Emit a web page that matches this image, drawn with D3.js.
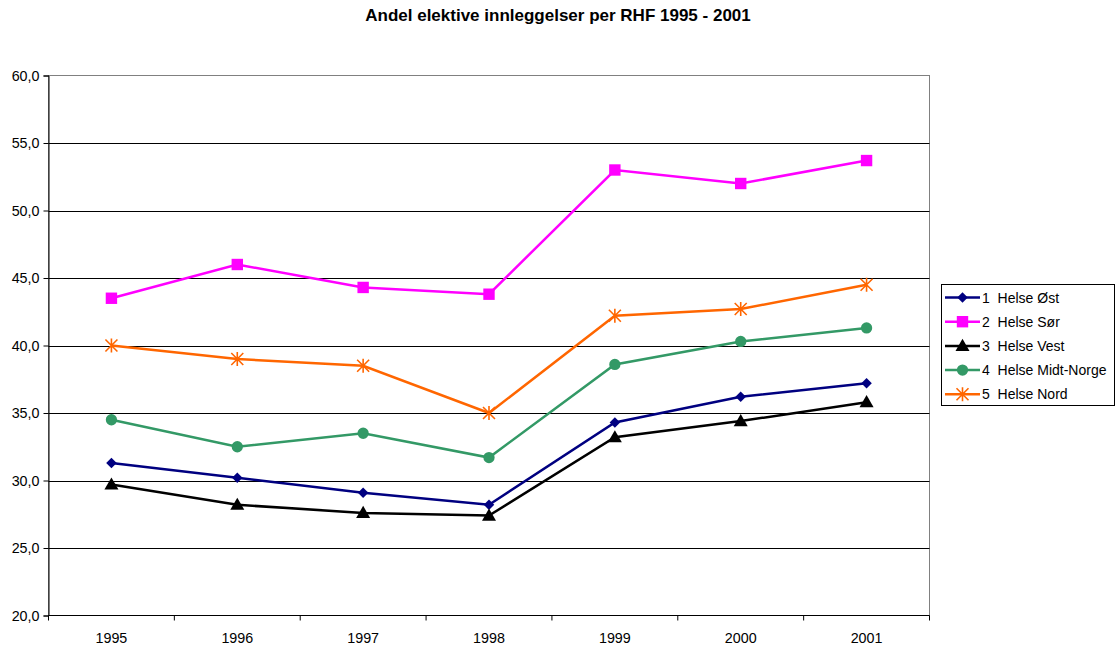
<!DOCTYPE html>
<html>
<head>
<meta charset="utf-8">
<script src="https://cdn.jsdelivr.net/npm/d3@7"></script>
<style>
  body { margin: 0; background: #fff; }
  svg { font-family: "Liberation Sans", Arial, sans-serif; }
</style>
</head>
<body>
<div id="chart"></div>
<script>
(function() {
  const years = ["1995", "1996", "1997", "1998", "1999", "2000", "2001"];
  const yTicks = [20, 25, 30, 35, 40, 45, 50, 55, 60];

  const helseOst = [31.3, 30.2, 29.1, 28.2, 34.3, 36.2, 37.2];
  const helseSor = [43.5, 46.0, 44.3, 43.8, 53.0, 52.0, 53.7];
  const helseVest = [29.7, 28.2, 27.6, 27.4, 33.2, 34.4, 35.8];
  const helseMidt = [34.5, 32.5, 33.5, 31.7, 38.6, 40.3, 41.3];
  const helseNord = [40.0, 39.0, 38.5, 35.0, 42.2, 42.7, 44.5];

  const seriesNames = ["1  Helse Øst", "2  Helse Sør", "3  Helse Vest", "4  Helse Midt-Norge", "5  Helse Nord"];
  const seriesColors = ["#000080", "#FF00FF", "#000000", "#339966", "#FF6600"];
  const seriesSymbols = ["diamond", "square", "triangle", "circle", "star"];
  const seriesValues = [helseOst, helseSor, helseVest, helseMidt, helseNord];

  const width = 1117, height = 650;
  const margin = { left: 48.5, right: 1117 - 929.5, top: 75.5, bottom: 650 - 615.5 };

  const svg = d3.select("#chart").append("svg")
    .attr("width", width)
    .attr("height", height);

  const x = d3.scaleBand()
    .domain(years)
    .range([margin.left, width - margin.right]);

  const y = d3.scaleLinear()
    .domain([20, 60])
    .range([height - margin.bottom, margin.top]);

  // Title
  svg.append("text")
    .attr("x", 558)
    .attr("y", 21)
    .attr("text-anchor", "middle")
    .style("font-size", "17px")
    .style("font-weight", "bold")
    .text("Andel elektive innleggelser per RHF 1995 - 2001");

  // Plot area border
  svg.append("rect")
    .attr("x", margin.left)
    .attr("y", margin.top)
    .attr("width", width - margin.right - margin.left)
    .attr("height", height - margin.bottom - margin.top)
    .attr("fill", "none")
    .attr("stroke", "#808080")
    .attr("stroke-width", 1);

  // Gridlines
  svg.append("g")
    .selectAll("line")
    .data(yTicks.filter(d => d > 20 && d < 60))
    .join("line")
    .attr("x1", margin.left)
    .attr("x2", width - margin.right)
    .attr("y1", d => Math.round(y(d)) + 0.5)
    .attr("y2", d => Math.round(y(d)) + 0.5)
    .attr("stroke", "#000")
    .attr("stroke-width", 1);

  // Y axis
  const yAxis = svg.append("g")
    .attr("transform", `translate(${margin.left},0)`)
    .call(d3.axisLeft(y)
      .tickValues(yTicks)
      .tickSize(5)
      .tickFormat(d => d3.format(".1f")(d).replace(".", ",")));
  yAxis.select(".domain").attr("stroke", "#000");
  yAxis.selectAll("text")
    .attr("x", -9)
    .style("font-size", "14.3px")
    .attr("fill", "#000");

  // X axis with ticks at band boundaries
  const xAxisG = svg.append("g")
    .attr("transform", `translate(0,${height - margin.bottom})`);
  xAxisG.append("line")
    .attr("x1", margin.left)
    .attr("x2", width - margin.right)
    .attr("stroke", "#000");
  const bounds = years.map(d => x(d)).concat([x(years[years.length - 1]) + x.bandwidth()]);
  xAxisG.selectAll("line.tick")
    .data(bounds)
    .join("line")
    .attr("class", "tick")
    .attr("x1", d => d)
    .attr("x2", d => d)
    .attr("y1", 0)
    .attr("y2", 5)
    .attr("stroke", "#000");
  xAxisG.selectAll("text")
    .data(years)
    .join("text")
    .attr("x", d => x(d) + x.bandwidth() / 2)
    .attr("y", 27)
    .attr("text-anchor", "middle")
    .style("font-size", "14.3px")
    .text(d => d);

  const cx = d => x(d) + x.bandwidth() / 2;

  const symbolMap = {
    diamond: d3.symbol().type(d3.symbolSquare).size(55),
    square: d3.symbol().type(d3.symbolSquare).size(130),
    triangle: d3.symbol().type(d3.symbolTriangle).size(85),
    circle: d3.symbol().type(d3.symbolCircle).size(100)
  };

  function drawMarker(g, type, color, px, py) {
    if (type === "star") {
      const r = 6;
      const star = g.append("g").attr("transform", `translate(${px},${py})`);
      star.append("path")
        .attr("d", `M${-r},${-r}L${r},${r}M${-r},${r}L${r},${-r}M0,${-r - 1}L0,${r + 1}`)
        .attr("stroke", color)
        .attr("stroke-width", 1.6)
        .attr("fill", "none");
    } else {
      const p = g.append("path")
        .attr("d", symbolMap[type]())
        .attr("fill", color);
      if (type === "diamond") {
        p.attr("transform", `translate(${px},${py}) rotate(45)`);
      } else if (type === "triangle") {
        p.attr("transform", `translate(${px},${py + 1})`);
      } else {
        p.attr("transform", `translate(${px},${py})`);
      }
    }
  }

  const line = d3.line()
    .x((d, i) => cx(years[i]))
    .y(d => y(d));

  seriesValues.forEach((vals, si) => {
    const g = svg.append("g");
    g.append("path")
      .datum(vals)
      .attr("d", line)
      .attr("fill", "none")
      .attr("stroke", seriesColors[si])
      .attr("stroke-width", 2.5);
    vals.forEach((v, i) => {
      drawMarker(g, seriesSymbols[si], seriesColors[si], cx(years[i]), y(v));
    });
  });

  // Legend
  const legend = svg.append("g");
  legend.append("rect")
    .attr("x", 941.5)
    .attr("y", 284.5)
    .attr("width", 173)
    .attr("height", 121)
    .attr("fill", "#fff")
    .attr("stroke", "#000")
    .attr("stroke-width", 1);

  seriesNames.forEach((name, i) => {
    const ly = 297.5 + i * 24.2;
    legend.append("line")
      .attr("x1", 945)
      .attr("x2", 980)
      .attr("y1", ly)
      .attr("y2", ly)
      .attr("stroke", seriesColors[i])
      .attr("stroke-width", 2.5);
    drawMarker(legend, seriesSymbols[i], seriesColors[i], 962.5, ly);
    legend.append("text")
      .attr("x", 982)
      .attr("y", ly + 5)
      .style("font-size", "14px")
      .style("white-space", "pre")
      .text(name);
  });
})();
</script>
</body>
</html>
